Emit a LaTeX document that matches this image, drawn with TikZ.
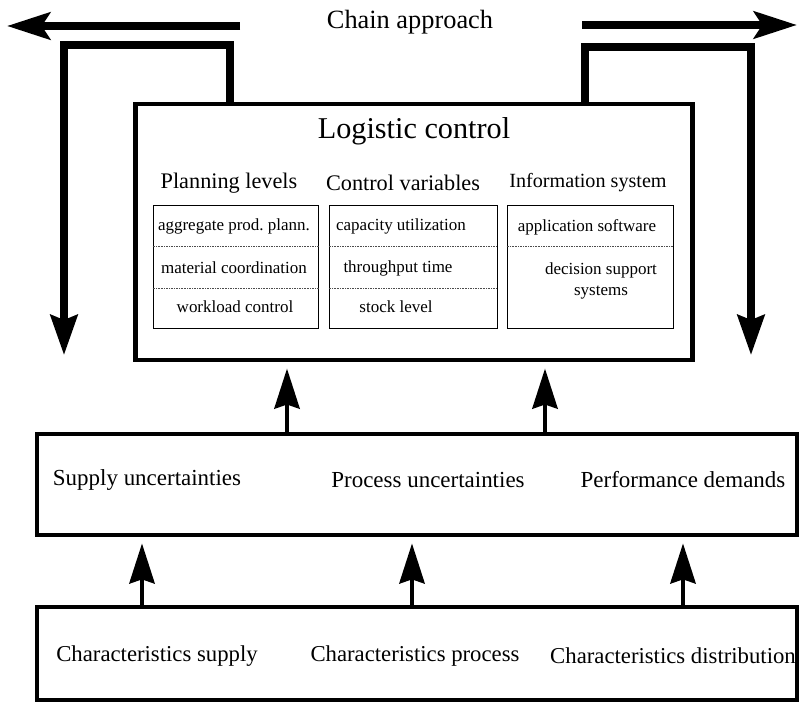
\documentclass[tikz,border=0pt]{standalone}
\usepackage{fontspec}
\setmainfont{Liberation Serif}
\usetikzlibrary{arrows.meta}

\newcommand{\fs}[1]{\fontsize{#1}{1.2\dimexpr#1pt\relax}\selectfont}

\begin{document}
\begin{tikzpicture}[x=0.03cm,y=-0.03cm,
    bigbox/.style={draw,line width=4.25pt,inner sep=0pt},
    tablebox/.style={draw,line width=0.6pt,inner sep=0pt},
    sep/.style={draw=black!70,line width=0.4pt,densely dotted},
    txt/.style={inner sep=0pt,align=center},
    cell/.style={txt,font=\fs{14.5}},
    chainarrow/.style={line width=6.8pt,-{Stealth[length=1.29cm,width=0.81cm,inset=0.25cm]}},
    route/.style={line width=6pt,-{Stealth[length=1.2cm,width=0.81cm,inset=0.15cm]}},
    uparrow/.style={line width=4.25pt,shorten >=0.18cm,-{Stealth[length=1.2cm,width=0.75cm,inset=0.12cm]}}]

\useasboundingbox (0,0) rectangle (799,705);

% chain approach
\node[txt,font=\fs{22.5}] (chain) at (410,22) {Chain approach};
\coordinate (cl1) at (240,26);
\coordinate (cl2) at (7,26);
\coordinate (cr1) at (582,25);
\coordinate (cr2) at (797,25);
\draw[chainarrow] (cl1) -- (cl2);
\draw[chainarrow] (cr1) -- (cr2);

% logistic control box
\node[bigbox,minimum width=16.68cm,minimum height=7.68cm] (logistic) at (414,232) {};
\node[txt,font=\fs{25.8}] (title) at (414,131) {Logistic control};
\node[txt,font=\fs{19}] (hplan) at (229,183) {Planning levels};
\node[txt,font=\fs{19}] (hctrl) at (403,183) {Control variables};
\node[txt,font=\fs{17.2}] (hinfo) at (588,183) {Information system};

% tables
\node[tablebox,minimum width=4.95cm,minimum height=3.69cm] (plan) at (235.5,266.5) {};
\node[tablebox,minimum width=5.04cm,minimum height=3.69cm] (ctrl) at (413,266.5) {};
\node[tablebox,minimum width=4.98cm,minimum height=3.69cm] (info) at (590,266.5) {};
\foreach \t in {plan,ctrl}{
  \draw[sep] ([yshift=-1.26cm]\t.north west) -- ([yshift=-1.26cm]\t.north east);
  \draw[sep] ([yshift=-2.52cm]\t.north west) -- ([yshift=-2.52cm]\t.north east);
}
\draw[sep] ([yshift=-1.26cm]info.north west) -- ([yshift=-1.26cm]info.north east);

\node[cell] (p1) at (234,226) {aggregate prod.\ plann.};
\node[cell] (p2) at (234,268) {material coordination};
\node[cell] (p3) at (235,307) {workload control};
\node[cell] (v1) at (401,226) {capacity utilization};
\node[cell] (v2) at (398,268) {throughput time};
\node[cell] (v3) at (396,307) {stock level};
\node[cell] (i1) at (587,227) {application software};
\node[cell] (i2) at (601,281) {decision support\\systems};

% loops of the chain approach
\coordinate (lx) at (230,0);
\coordinate (rx) at (585,0);
\coordinate (ldown) at (64,355);
\coordinate (rdown) at (751,355);
\draw[route] (lx |- logistic.north) -- (230,45) -| (ldown);
\draw[route] (rx |- logistic.north) -- (585,47) -| (rdown);

% uncertainties
\node[bigbox,line width=4pt,minimum width=22.8cm,minimum height=3.03cm] (unc) at (417,484.5) {};
\node[txt,font=\fs{19.6}] (u1) at (147,480) {Supply uncertainties};
\node[txt,font=\fs{19.6}] (u2) at (428,480) {Process uncertainties};
\node[txt,font=\fs{19.6}] (u3) at (683,480) {Performance demands};

% characteristics
\node[bigbox,line width=4pt,minimum width=22.8cm,minimum height=2.79cm] (char) at (417,653.5) {};
\node[txt,font=\fs{19.4}] (k1) at (157,656) {Characteristics supply};
\node[txt,font=\fs{19.4}] (k2) at (415,656) {Characteristics process};
\node[txt,font=\fs{19.4}] (k3) at (673,656) {Characteristics distribution};

% arrows upwards
\coordinate (a1) at (287,0);
\coordinate (a2) at (545,0);
\draw[uparrow] (a1 |- unc.north) -- (a1 |- logistic.south);
\draw[uparrow] (a2 |- unc.north) -- (a2 |- logistic.south);
\foreach \x/\n in {142/b1,412/b2,683/b3}{
  \coordinate (\n) at (\x,0);
  \draw[uparrow] (\n |- char.north) -- (\n |- unc.south);
}

\end{tikzpicture}
\end{document}
